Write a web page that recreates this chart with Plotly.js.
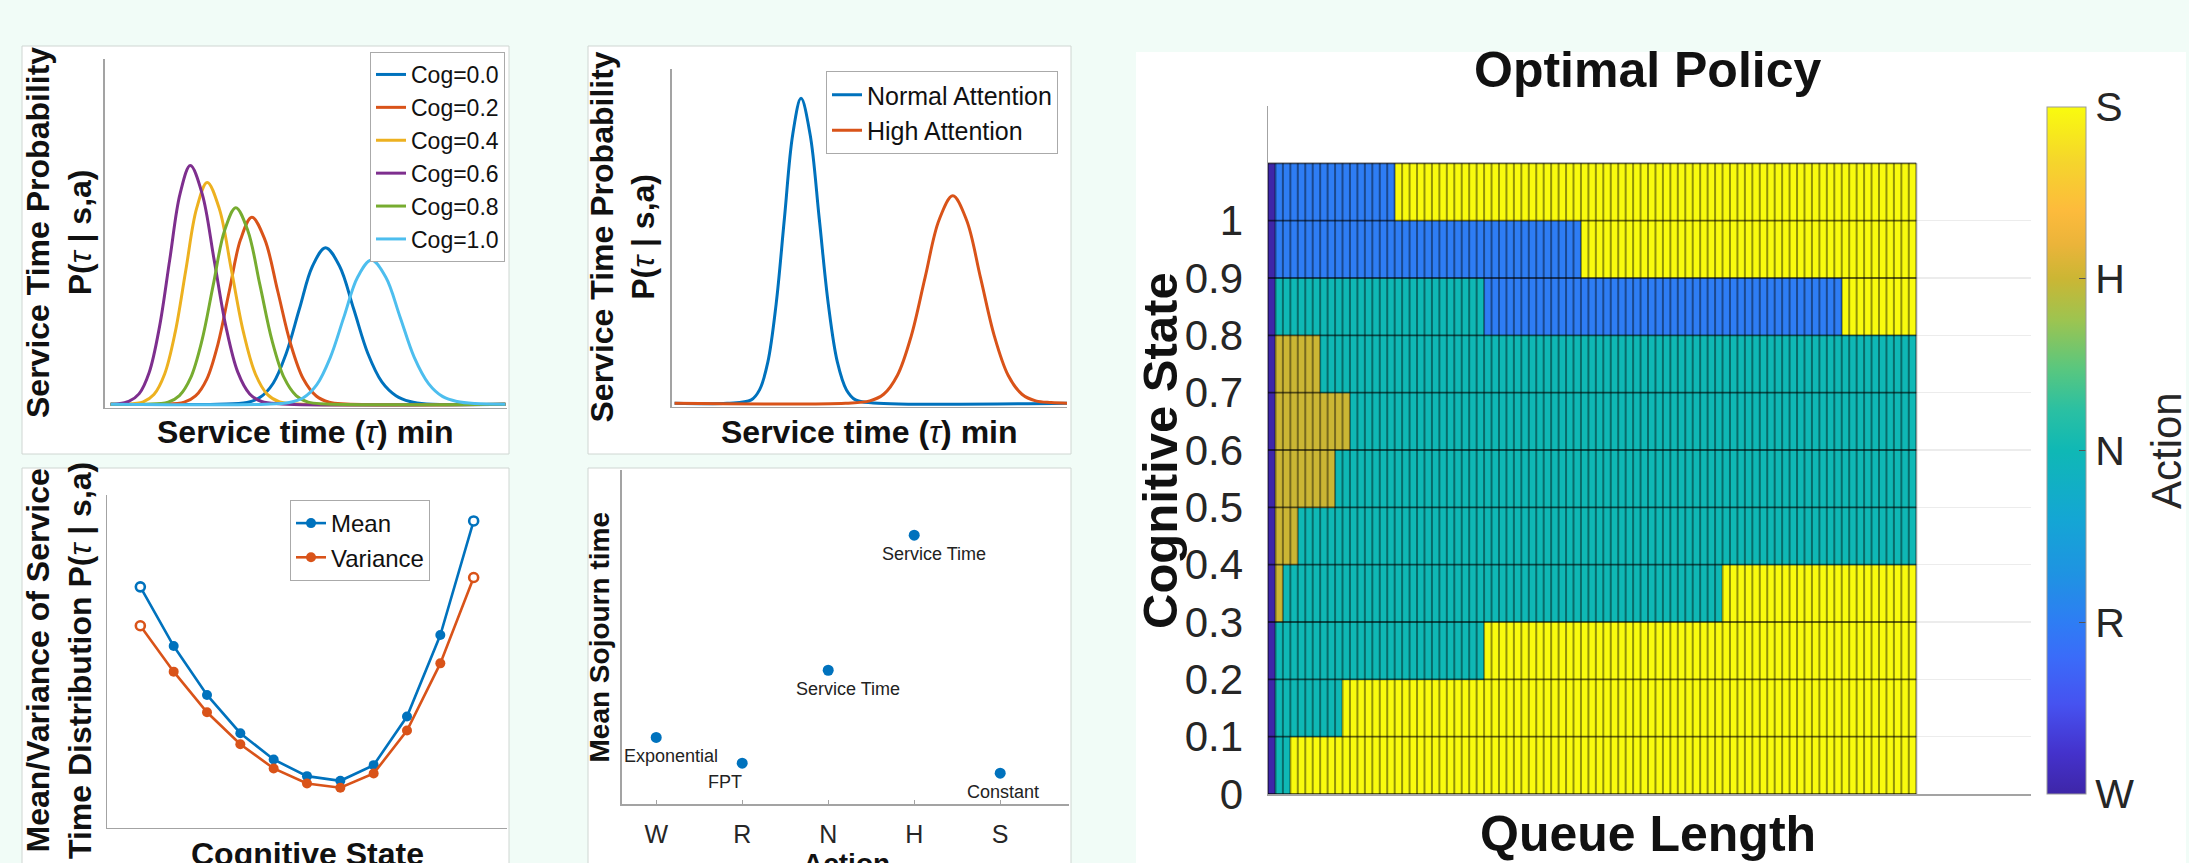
<!DOCTYPE html>
<html><head><meta charset="utf-8">
<script src="https://cdn.plot.ly/plotly-3.0.1.min.js"></script>
<style>html,body{margin:0;padding:0;background:#F1FCF7;}#chart{width:2189px;height:863px;}</style>
</head><body><div id="chart"></div>
<script>
// ---------------- DATA ----------------
// Panel 1: service time distributions by cognitive state (tau, probability)
const cogNames = ['Cog=0.0','Cog=0.2','Cog=0.4','Cog=0.6','Cog=0.8','Cog=1.0'];
const cog00x = [1.5,28,35.4,38.65,41.9,45.15,48.4,51.65,54.9,58.4,61.9,65.4,68.9,72.4,75.9,80,99.6];
const cog00y = [0,0,0.005,0.02,0.061,0.148,0.276,0.4,0.454,0.4,0.276,0.148,0.065,0.025,0.008,0.001,0];
const cog02x = [1.5,14,19.8,22.6,25.4,28.2,31.0,33.8,36.6,39.8,43.0,46.2,49.4,52.6,55.8,60,99.6];
const cog02y = [0,0,0.006,0.024,0.073,0.176,0.329,0.478,0.542,0.478,0.329,0.176,0.073,0.024,0.006,0.001,0];
const cog04x = [1.5,5,9.6,12.25,14.9,17.55,20.2,22.85,25.5,28.5,31.5,34.5,37.5,40.5,43.5,48,99.6];
const cog04y = [0,0,0.007,0.028,0.087,0.209,0.39,0.567,0.643,0.567,0.39,0.209,0.087,0.028,0.007,0.001,0];
const cog06x = [1.5,3,6.0,8.55,11.1,13.65,16.2,18.75,21.3,24.25,27.2,30.15,33.1,36.05,39.0,44,99.6];
const cog06y = [0,0.001,0.008,0.03,0.093,0.225,0.42,0.61,0.692,0.61,0.42,0.225,0.093,0.03,0.008,0.001,0];
const cog08x = [1.5,10,15.8,18.6,21.4,24.2,27.0,29.8,32.6,35.6,38.6,41.6,44.6,47.6,50.6,55,99.6];
const cog08y = [0,0,0.006,0.025,0.077,0.185,0.346,0.503,0.57,0.503,0.346,0.185,0.077,0.025,0.006,0.001,0];
const cog10x = [1.5,40,45.9,49.3,52.7,56.1,59.5,62.9,66.3,69.85,73.4,76.95,80.5,84.05,87.6,92,99.6];
const cog10y = [0,0,0.005,0.018,0.056,0.136,0.254,0.369,0.418,0.369,0.254,0.136,0.06,0.022,0.008,0.002,0];

// Panel 2: attention levels
const attnNames = ['Normal Attention','High Attention'];
const normalX = [0.7,14,20.1,22.2,24.3,26.4,28.5,30.6,32.7,35.0,37.3,39.6,41.9,44.2,46.5,51,100];
const normalY = [0,0,0.01,0.04,0.123,0.297,0.554,0.805,0.913,0.805,0.554,0.297,0.123,0.04,0.01,0.001,0];
const highX = [0.7,44,50.1,53.6,57.1,60.6,64.1,67.6,71.1,74.6,78.1,81.6,85.1,88.6,92.1,96,100];
const highY = [0,0,0.007,0.027,0.084,0.202,0.377,0.548,0.621,0.548,0.377,0.202,0.084,0.027,0.007,0.002,0];

// Panel 3: mean / variance vs cognitive state
const cogStates = [0,0.1,0.2,0.3,0.4,0.5,0.6,0.7,0.8,0.9,1.0];
const meanVals = [0.724,0.546,0.399,0.284,0.205,0.155,0.141,0.188,0.334,0.579,0.922];
const varVals  = [0.607,0.469,0.347,0.251,0.178,0.133,0.120,0.163,0.292,0.494,0.752];

// Panel 4: mean sojourn time per action
const actions = ['W','R','N','H','S'];
const sojourn = [2.0,1.23,4.01,8.05,0.93];
const sojournLabels = ['Exponential','FPT','Service Time','Service Time','Constant'];

// Panel 5: optimal policy (runs of [action, number of queue-length columns]) per cognitive-state row
const actionCodes = {W:1,R:2,N:3,H:4,S:5};
const cogEdges = [0,0.1,0.2,0.3,0.4,0.5,0.6,0.7,0.8,0.9,1.0,1.1];
const yTickVals = [0,0.1,0.2,0.3,0.4,0.5,0.6,0.7,0.8,0.9,1];
const yTickText = ['0','0.1','0.2','0.3','0.4','0.5','0.6','0.7','0.8','0.9','1'];
const policyRuns = [
  [['W',1],['N',2],['S',84]],              // 0.0
  [['W',1],['N',9],['S',77]],              // 0.1
  [['W',1],['N',28],['S',58]],             // 0.2
  [['W',1],['H',1],['N',59],['S',26]],     // 0.3
  [['W',1],['H',3],['N',83]],              // 0.4
  [['W',1],['H',8],['N',78]],              // 0.5
  [['W',1],['H',10],['N',76]],             // 0.6
  [['W',1],['H',6],['N',80]],              // 0.7
  [['W',1],['N',28],['R',48],['S',10]],    // 0.8
  [['W',1],['R',41],['S',45]],             // 0.9
  [['W',1],['R',16],['S',70]]              // 1.0
];

// ---------------- BUILD ----------------
const W = 2189, H = 863;
const px = v => v / W;
const py = v => 1 - v / H;
const FONT = 'Liberation Sans, Arial, sans-serif';
const C = ['#0072BD','#D95319','#EDB120','#7E2F8E','#77AC30','#4DBEEE'];
const tau = '<i>τ</i>';

const traces = [];
const p1 = [[cog00x,cog00y],[cog02x,cog02y],[cog04x,cog04y],[cog06x,cog06y],[cog08x,cog08y],[cog10x,cog10y]];
p1.forEach((d,i) => traces.push({type:'scatter', mode:'lines', x:d[0], y:d[1], name:cogNames[i],
  line:{color:C[i], width:3, shape:'spline'}, xaxis:'x', yaxis:'y', legend:'legend'}));

[[normalX,normalY],[highX,highY]].forEach((d,i) => traces.push({type:'scatter', mode:'lines', x:d[0], y:d[1],
  name:attnNames[i], line:{color:C[i], width:3, shape:'spline'}, xaxis:'x2', yaxis:'y2', legend:'legend2'}));

[[meanVals,'Mean'],[varVals,'Variance']].forEach((d,i) => {
  traces.push({type:'scatter', mode:'lines+markers', x:cogStates, y:d[0], name:d[1],
    line:{color:C[i], width:2.6}, marker:{color:C[i], size:10, symbol:'circle'},
    xaxis:'x3', yaxis:'y3', legend:'legend3'});
  const last = cogStates.length - 1;
  traces.push({type:'scatter', mode:'markers', x:[cogStates[0], cogStates[last]], y:[d[0][0], d[0][last]],
    marker:{color:'#ffffff', size:9, line:{color:C[i], width:2.6}}, showlegend:false, xaxis:'x3', yaxis:'y3'});
});

traces.push({type:'scatter', mode:'markers', x:actions, y:sojourn, marker:{color:'#0072BD', size:11},
  showlegend:false, xaxis:'x4', yaxis:'y4'});

// policy heatmap
const z = policyRuns.map(row => row.flatMap(([a,n]) => Array(n).fill(actionCodes[a])));
const nCols = z[0].length;
const qEdges = Array.from({length:nCols+1}, (_,i) => i);
const parula = [
  [0.00,'#3E26A8'],[0.06,'#4432CC'],[0.13,'#4652F0'],[0.20,'#3A6CF9'],[0.25,'#2E7DF4'],
  [0.32,'#1F93E2'],[0.40,'#14A6D4'],[0.50,'#0FB8B5'],[0.56,'#2BC0A2'],[0.62,'#5AC77E'],
  [0.69,'#9DC450'],[0.75,'#CBB634'],[0.80,'#EBB43A'],[0.85,'#FDBB3C'],[0.92,'#F5D52C'],[1.00,'#F9FB0E']
];
traces.push({type:'heatmap', x:qEdges, y:cogEdges, z:z, zmin:1, zmax:5, colorscale:parula,
  xaxis:'x5', yaxis:'y5', showscale:true, hoverinfo:'skip',
  colorbar:{x:px(2047), xanchor:'left', xpad:0, y:py(450.5), yanchor:'middle', ypad:0,
    len:687, lenmode:'pixels', thickness:39, thicknessmode:'pixels',
    outlinewidth:1, outlinecolor:'#9a9a9a', tickvals:[1,2,3,4,5], ticktext:actions,
    ticks:'inside', ticklen:7, tickcolor:'#555', tickfont:{family:FONT, size:41, color:'#262626'}}});
// cell edge lines
const vx = [], vy = [];
qEdges.forEach(q => { vx.push(q, q, null); vy.push(cogEdges[0], cogEdges[cogEdges.length-1], null); });
traces.push({type:'scatter', mode:'lines', x:vx, y:vy, line:{color:'rgba(0,0,0,0.42)', width:2}, showlegend:false, hoverinfo:'skip', xaxis:'x5', yaxis:'y5'});
const hx = [], hy = [];
cogEdges.forEach(c => { hx.push(qEdges[0], qEdges[nCols], null); hy.push(c, c, null); });
traces.push({type:'scatter', mode:'lines', x:hx, y:hy, line:{color:'rgba(0,0,0,0.6)', width:1.8}, showlegend:false, hoverinfo:'skip', xaxis:'x5', yaxis:'y5'});

// ---------------- LAYOUT ----------------
const axLine = '#a3a3a3';
const baseAx = {showline:true, linecolor:axLine, linewidth:1.5, showgrid:false, zeroline:false, showticklabels:false, ticks:'', fixedrange:true};
const legBase = {xanchor:'left', yanchor:'top', bgcolor:'#fff', bordercolor:'#aaaaaa', borderwidth:1, itemwidth:30};
const layout = {
  width:W, height:H, margin:{l:0,r:0,t:0,b:0},
  paper_bgcolor:'#F1FCF7', plot_bgcolor:'rgba(0,0,0,0)', hovermode:false,
  font:{family:FONT, color:'#262626'},
  xaxis:  Object.assign({}, baseAx, {domain:[px(104.6), px(507)], range:[0,100], anchor:'y'}),
  yaxis:  Object.assign({}, baseAx, {domain:[py(407.7), py(59.3)], range:[-0.01,1], anchor:'x'}),
  xaxis2: Object.assign({}, baseAx, {domain:[px(671.8), px(1067)], range:[0,100], anchor:'y2'}),
  yaxis2: Object.assign({}, baseAx, {domain:[py(406.6), py(69.3)], range:[-0.01,1], anchor:'x2'}),
  xaxis3: Object.assign({}, baseAx, {domain:[px(107), px(507)], range:[-0.1,1.1], anchor:'y3'}),
  yaxis3: Object.assign({}, baseAx, {domain:[py(827.7), py(495)], range:[0,1], anchor:'x3'}),
  xaxis4: Object.assign({}, baseAx, {domain:[px(621.8), px(1069)], range:[-0.4,4.8], anchor:'y4', type:'category',
    showticklabels:true, ticks:'inside', ticklen:4, tickcolor:axLine, ticklabelstandoff:7,
    tickfont:{family:FONT, size:25, color:'#262626'}}),
  yaxis4: Object.assign({}, baseAx, {domain:[py(804.3), py(470)], range:[0,10], anchor:'x4'}),
  xaxis5: Object.assign({}, baseAx, {domain:[px(1268), px(2031)], range:[0,102.4], anchor:'y5'}),
  yaxis5: Object.assign({}, baseAx, {domain:[py(794), py(106)], range:[0,1.2], anchor:'x5',
    showticklabels:true, tickvals:yTickVals, ticktext:yTickText, showgrid:true, gridcolor:'#ececec', gridwidth:1.5,
    ticklabelstandoff:15, tickfont:{family:FONT, size:42, color:'#262626'}}),
  legend:  Object.assign({}, legBase, {x:px(370), y:py(52), font:{family:FONT, size:23, color:'#111'}}),
  legend2: Object.assign({}, legBase, {x:px(826), y:py(71), font:{family:FONT, size:25, color:'#111'}}),
  legend3: Object.assign({}, legBase, {x:px(290), y:py(500), font:{family:FONT, size:24, color:'#111'}}),
  shapes: [
    [22,46,509,454],[588,46,1071,454],[22,468,509,880],[588,468,1071,880]
  ].map(b => ({type:'rect', xref:'paper', yref:'paper', x0:px(b[0]), x1:px(b[2]), y0:py(b[3]), y1:py(b[1]),
      fillcolor:'#ffffff', line:{color:'#cfd6d2', width:1}, layer:'below'}))
    .concat([{type:'rect', xref:'paper', yref:'paper', x0:px(1136), x1:px(2186), y0:py(880), y1:py(52),
      fillcolor:'#ffffff', line:{width:0}, layer:'below'}]),
  annotations: []
};

function ann(text, x, y, size, opts) {
  layout.annotations.push(Object.assign({text:text, xref:'paper', yref:'paper', x:px(x), y:py(y),
    showarrow:false, xanchor:'center', yanchor:'middle', font:{family:FONT, size:size, color:'#111'}}, opts || {}));
}
ann('<b>Service time (</b>'+tau+'<b>) min</b>', 305, 412, 32, {yanchor:'top'});
ann('<b>Service Time Probability</b><br><b>P(</b>'+tau+'<b> | s,a)</b>', 59, 233, 32, {textangle:-90});
ann('<b>Service time (</b>'+tau+'<b>) min</b>', 869, 412, 32, {yanchor:'top'});
ann('<b>Service Time Probability</b><br><b>P(</b>'+tau+'<b> | s,a)</b>', 622.5, 237, 32, {textangle:-90});
ann('<b>Mean/Variance of Service</b><br><b>Time Distribution P(</b>'+tau+'<b> | s,a)</b>', 59, 661, 32, {textangle:-90});
ann('<b>Cognitive State</b>', 307, 834, 32, {yanchor:'top'});
ann('<b>Mean Sojourn time</b>', 599, 637.5, 28, {textangle:-90});
ann('<b>Action</b>', 846, 846, 28, {yanchor:'top'});
ann('<b>Optimal Policy</b>', 1648, 40, 50, {yanchor:'top'});
ann('<b>Cognitive State</b>', 1160, 451, 49, {textangle:-90});
ann('<b>Queue Length</b>', 1648, 804, 50, {yanchor:'top'});
ann('Action', 2166, 451, 42, {textangle:-90, font:{family:FONT, size:42, color:'#262626'}});

const labelShiftX = [15,-17,20,20,3];
sojournLabels.forEach((t,i) => layout.annotations.push({text:t, xref:'x4', yref:'y4', x:actions[i], y:sojourn[i],
  xshift:labelShiftX[i], yshift:-19, showarrow:false, xanchor:'center', yanchor:'middle',
  font:{family:FONT, size:18, color:'#222'}}));

Plotly.newPlot('chart', traces, layout, {staticPlot:true, displayModeBar:false});
</script></body></html>
